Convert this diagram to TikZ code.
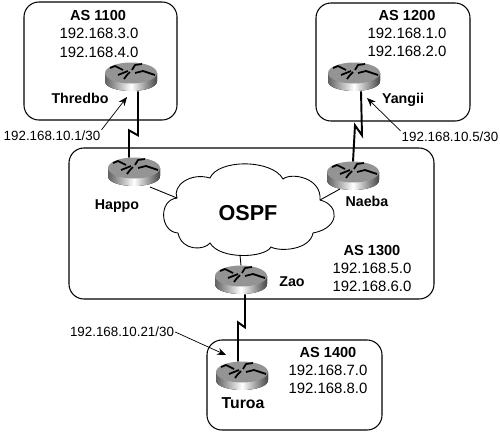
\documentclass[tikz,border=0pt]{standalone}
\usepackage{fontspec}
\setmainfont{Liberation Sans}
\usetikzlibrary{arrows.meta}
\tikzset{
    asbox/.style={draw, line width=0.6pt, rounded corners=8.5pt},
    routerbox/.style={minimum width=1.04cm, minimum height=0.56cm, inner sep=0pt},
    net/.style={font=\fontsize{8.5}{10}\selectfont},
    asname/.style={font=\fontsize{8.3}{10}\selectfont\bfseries},
    hostname/.style={font=\fontsize{8.1}{10}\selectfont\bfseries},
    addr/.style={font=\fontsize{7.6}{9}\selectfont, inner sep=0.5pt},
    seriallink/.style={line width=1.1pt},
    lanlink/.style={line width=0.5pt},
    addrarrow/.style={line width=0.4pt, -{Stealth[length=5pt,width=4pt]}},
    pics/router/.style={code={
        \fill[left color=black!62, right color=black!72, middle color=white]
            (-26,-4) -- (-26,4) .. controls (-26,17.3) and (26,17.3) .. (26,4) -- (26,-4) -- cycle;
        \fill[black!42] (0,-4) ellipse [x radius=26, y radius=10.5];
        \draw[line width=1pt, line join=round] (-21,-9) -- (-16,-11) -- (-8,-7);
        \draw[line width=1pt, line join=round] (1,-7) -- (4,-12) -- (11,-13);
        \draw[line width=1pt, line join=round] (4,-4) -- (12,-6) -- (24,-2);
        \draw[line width=1pt, line join=round] (-13,-2) -- (-3,-6);
        \draw[line width=1pt, line join=round] (-7,2) -- (-4,-2) -- (-1,-5);
    }}
}
\begin{document}
\begin{tikzpicture}[x=0.02cm, y=-0.02cm]
    \useasboundingbox (0,0) rectangle (500,433); % page size

    % autonomous systems
    \draw[asbox] (24,2) rectangle (177,120);
    \draw[asbox] (316,3) rectangle (470,121);
    \draw[asbox] (69,148) rectangle (434,299);
    \draw[asbox] (207,340) rectangle (382,430);

    % routers
    \node[routerbox] (thredbo) at (131,77) {};
    \node[routerbox] (yangii) at (354,77) {};
    \node[routerbox] (happo) at (134,172) {};
    \node[routerbox] (naeba) at (353,176) {};
    \node[routerbox] (zao) at (241,280) {};
    \node[routerbox] (turoa) at (242,376) {};

    % cloud
    \draw[line width=0.5pt, fill=white]
        (177,198) .. controls (172,186) and (190,172) .. (210,178)
        .. controls (218,159) and (272,159) .. (283,179)
        .. controls (292,172) and (322,178) .. (320,200)
        .. controls (340,205) and (340,228) .. (313,233)
        .. controls (310,250) and (280,252) .. (271,247)
        .. controls (265,258) and (220,260) .. (210,243)
        .. controls (205,250) and (182,252) .. (178,233)
        .. controls (160,232) and (158,200) .. (177,198) -- cycle;
    \coordinate (cloudw) at (177,198);
    \coordinate (cloude) at (320,200);
    \coordinate (clouds) at (240,255);
    \node[font=\fontsize{12.3}{14}\selectfont\bfseries] (ospf) at (248,213) {OSPF};

    \draw[lanlink] ([shift={(16,15)}]happo.center) -- (cloudw);
    \draw[lanlink] ([shift={(-13,13)}]naeba.center) -- (cloude);
    \draw[lanlink] (clouds) -- (zao.north);

    % serial links
    \draw[seriallink] ([shift={(7,0)}]thredbo.south) -- ++(0,44) -- ++(-9,-5) -- ([shift={(-5,0)}]happo.north);
    \draw[seriallink] ([shift={(7,0)}]yangii.south) -- ++(1,44) -- ++(-7,-10) -- (naeba.north);
    \draw[seriallink] ([shift={(4,0)}]zao.south) -- ++(0,33) -- ++(-7,-5) -- ([shift={(-4,0)}]turoa.north);

    \pic at (thredbo) {router};
    \pic at (yangii) {router};
    \pic at (happo) {router};
    \pic at (naeba) {router};
    \pic at (zao) {router};
    \pic at (turoa) {router};

    % labels
    \node[asname] (as1100) at (98,15) {AS 1100};
    \node[net] (net3) at (99,33) {192.168.3.0};
    \node[net] (net4) at (99,52) {192.168.4.0};
    \node[asname] (as1200) at (407,15) {AS 1200};
    \node[net] (net1) at (407,33) {192.168.1.0};
    \node[net] (net2) at (407,51) {192.168.2.0};
    \node[asname] (as1300) at (372,250) {AS 1300};
    \node[net] (net5) at (372,268) {192.168.5.0};
    \node[net] (net6) at (372,286) {192.168.6.0};
    \node[asname] (as1400) at (328,352) {AS 1400};
    \node[net] (net7) at (328,370) {192.168.7.0};
    \node[net] (net8) at (328,388) {192.168.8.0};

    \node[hostname] (lthredbo) at (80,98) {Thredbo};
    \node[hostname] (lyangii) at (403,100) {Yangii};
    \node[hostname] (lhappo) at (117,206) {Happo};
    \node[hostname] (lnaeba) at (367,201) {Naeba};
    \node[hostname] (lzao) at (292,282) {Zao};
    \node[font=\fontsize{9}{11}\selectfont\bfseries] (lturoa) at (243,403) {Turoa};

    % interface addresses
    \node[addr] (addr1) at (52,136) {192.168.10.1/30};
    \node[addr] (addr5) at (450,137) {192.168.10.5/30};
    \node[addr] (addr21) at (122,332) {192.168.10.21/30};
    \coordinate (if1) at (127,97);
    \coordinate (if5) at (367,98);
    \coordinate (if21) at (226,355);
    \draw[addrarrow] (addr1.north east) -- (if1);
    \draw[addrarrow] (addr5.north west) -- (if5);
    \draw[addrarrow] (addr21.east) -- (if21);
\end{tikzpicture}
\end{document}
